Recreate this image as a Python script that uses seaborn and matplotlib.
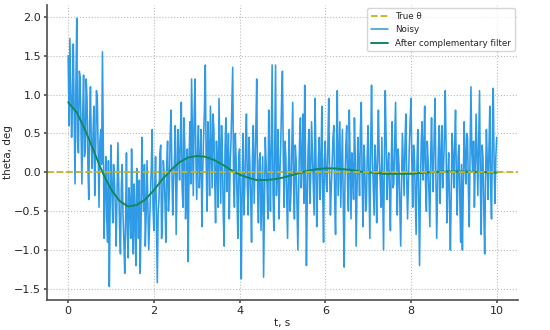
import numpy as np
import pandas as pd
import matplotlib
matplotlib.use("Agg")
import matplotlib.pyplot as plt
import seaborn as sns

# filtered estimate, sampled every 0.2 s
t_filt = np.linspace(0, 10, 51)
theta_filt = [0.90, 0.77, 0.54, 0.27, 0.00, -0.22, -0.37, -0.44, -0.42, -0.35,
              -0.23, -0.09, 0.03, 0.13, 0.19, 0.21, 0.20, 0.16, 0.10, 0.03,
              -0.03, -0.07, -0.10, -0.10, -0.09, -0.07, -0.04, -0.01, 0.02, 0.04,
              0.05, 0.05, 0.04, 0.03, 0.01, 0.00, -0.01, -0.02, -0.02, -0.02,
              -0.02, -0.01, 0.00, 0.005, 0.009, 0.011, 0.010, 0.008, 0.004, 0.000,
              -0.003]

# noisy measurement, sampled every 0.02 s
theta_noisy = [
    # 0-1 s
    1.50, 0.60, 1.72, 1.05, 0.45, 0.90, 1.65, 0.70, -0.15, 1.10, 1.98, 0.40, 0.25, 1.30, 1.22, 0.55, -0.15, 0.75, 1.25, 0.20, 0.30, 1.20, 0.95, 0.10, -0.35,
    0.65, 1.10, 0.35, 0.05, 0.50, 0.85, -0.30, 0.20, 1.05, 0.95, 0.25, -0.45, 0.40, 0.55, 0.10, 1.55, 0.30, -0.85, -0.20, 0.20, -0.60, -0.90, 0.15, -1.47, -0.40,
    # 1-2 s
    0.35, -0.25, -0.65, 0.10, -0.10, -0.45, -0.95, -0.30, 0.38, -0.15, -0.70, -1.05, -0.20, 0.10, -0.55, -0.90, -1.30, -0.60, 0.25, -0.75, -1.10, -0.20, -0.40, -0.85, 0.30,
    -0.50, -1.05, -0.15, -0.60, -1.20, 0.05, -0.35, -0.85, -0.10, -1.30, -0.70, 0.45, -0.20, -0.50, 0.10, -0.95, -0.55, 0.15, -0.40, -1.00, -0.65, -0.30, 0.05, 0.55, -0.45,
    # 2-3 s
    -0.75, -0.20, 0.20, -0.65, -1.42, -0.50, -0.35, 0.25, 0.35, -0.85, -0.60, 0.15, 0.00, -0.40, -0.90, 0.10, 0.40, -0.50, -0.25, 0.45, 0.80, 0.05, -0.55, -0.10, 0.15,
    0.60, -0.80, -0.15, 0.55, 0.20, -0.10, 0.50, 0.90, -0.20, -0.45, 0.70, 0.35, -0.60, -0.20, 0.30, -1.15, 0.10, 0.65, -0.15, 1.20, 0.40, -0.30, 0.75, 1.20, 0.20,
    # 3-4 s
    -0.35, 0.25, 0.60, -0.20, 0.10, 0.55, -0.70, 0.00, 0.45, 0.80, 1.38, 0.15, -0.50, 0.65, 0.30, -0.30, 0.85, 0.35, -0.20, 0.75, 0.55, -0.10, -0.65, 0.40, 0.10,
    -0.45, 0.95, 0.25, -0.40, 0.60, 0.20, -0.55, -0.95, 0.30, 0.70, -0.25, 0.05, 0.50, -0.60, 0.10, 0.40, 0.85, 1.35, -0.10, -0.45, 0.50, 0.15, -0.30, -0.85, 0.20,
    # 4-5 s
    0.30, -0.40, -1.37, -0.10, 0.50, -0.55, -0.20, 0.35, 0.75, -0.15, -0.55, 0.45, 0.10, -0.35, -0.90, 0.20, 0.60, -0.40, 0.05, 0.55, 1.20, -0.20, -0.65, 0.15, 0.25,
    -0.75, -0.30, 0.20, -1.35, -0.45, 0.45, 0.10, -0.15, -0.60, 0.80, 0.25, -0.50, 0.40, 1.38, -0.25, -0.75, 0.30, 1.38, -0.30, 0.00, 0.55, -0.60, -0.05, 0.35, 0.90,
    # 5-6 s
    1.30, 0.20, -0.45, 0.40, 0.20, -0.35, -0.85, 0.05, 0.55, -0.50, -0.25, 0.30, 0.90, -0.15, -0.60, 0.35, 0.15, -0.45, -1.00, -0.20, 0.40, 0.70, -0.20, 0.15, 0.75,
    -0.40, 1.12, 0.10, -1.20, -0.30, 0.30, 0.55, -0.40, -0.05, 0.65, 0.25, -0.10, -0.55, 0.95, 0.30, -0.70, -0.20, 0.20, 0.45, -0.35, 0.10, 0.85, -0.25, -0.90, 0.15,
    # 6-7 s
    0.40, -0.10, -0.25, 0.30, 0.95, 0.05, -0.55, -0.20, 0.10, 0.45, 0.60, -0.35, -0.80, 0.25, 1.05, -0.30, 0.20, 0.65, -0.45, 0.05, 0.55, -0.40, -1.22, -0.10, 0.35,
    0.60, -0.15, -0.50, 0.80, 0.15, -0.60, 0.25, 0.00, -0.35, 0.70, 0.20, -0.95, -0.25, 0.45, 0.10, -0.30, 0.55, 0.90, -0.10, -0.70, 0.35, 0.15, -0.50, -0.40, 0.25,
    # 7-8 s
    0.60, -0.15, -0.85, 0.35, 1.12, 0.20, -0.20, -0.55, 0.35, 0.05, -0.65, 0.30, 0.80, 0.15, -0.10, -0.45, 0.45, -0.25, -1.00, 0.20, 1.05, 0.40, -0.35, 0.10, 0.25,
    -0.30, -0.75, 0.15, 0.65, -0.20, -0.15, 0.40, 0.90, 0.05, -0.55, 0.30, 0.10, -0.40, -0.95, -0.15, 0.50, 0.10, -0.30, 0.35, 0.75, -0.05, -0.60, -0.15, 0.30, 0.65,
    # 8-9 s
    0.95, 0.15, -0.45, 0.35, 0.20, -0.30, -0.80, 0.10, 0.55, -0.35, -1.20, -0.20, 0.40, 0.65, -0.10, 0.25, 0.85, -0.15, -0.50, 0.40, 0.15, -0.25, -0.70, 0.20, 0.70,
    0.05, -0.25, 0.45, 0.95, 0.10, -0.85, -0.30, 0.30, 0.60, -0.40, 0.15, 0.60, -0.20, 0.05, 0.45, 1.05, 0.30, -0.65, -0.10, 0.25, -0.45, -1.00, -0.20, 0.50, 0.20,
    # 9-10 s
    -0.20, 0.35, 0.80, -0.10, -0.55, 0.20, 0.35, -0.35, -0.90, 0.10, -1.00, -0.25, 0.65, 0.15, -0.15, 0.50, 0.45, -0.20, -0.70, 0.30, 1.10, 0.25, 0.00, 0.40, -0.45,
    0.10, 0.75, 0.20, -0.30, 0.40, 1.05, -0.15, -0.80, 0.35, 0.20, -0.50, -1.05, -0.10, 0.55, 0.15, -0.35, 0.30, 0.85, -0.20, -0.60, 0.45, 1.08, 0.10, -0.40, 0.20,
    0.45]
t_noisy = np.linspace(0, 10, len(theta_noisy))

true_theta = 0.0

sns.set_theme(style="ticks")
plt.rcParams['font.family'] = ['DejaVu Sans']

fig, ax = plt.subplots(figsize=(5.5, 3.3), dpi=100)

sns.lineplot(x=t_noisy, y=theta_noisy, ax=ax, color='#2f9ae6', linewidth=1.15,
             label='Noisy', sort=False)
sns.lineplot(x=t_filt, y=theta_filt, ax=ax, color='#12895c', linewidth=1.4,
             label='After complementary filter', sort=False)
ax.axhline(true_theta, color='#c2b422', linestyle='--', linewidth=1.3, label='True θ')

ax.grid(True, linestyle=':', color='#bbbbbb', linewidth=0.8)
sns.despine(ax=ax)
for s in ['left', 'bottom']:
    ax.spines[s].set_color('#555555')
ax.tick_params(labelsize=8, length=2, pad=2, color='#555555')
ax.set_xlabel('t, s', fontsize=7.5, labelpad=2)
ax.set_ylabel('theta, deg', fontsize=7.5, labelpad=1)

h, l = ax.get_legend_handles_labels()
order = [2, 0, 1]
ax.legend([h[i] for i in order], [l[i] for i in order], loc='upper right',
          fontsize=6.3, frameon=True, edgecolor='#cccccc', borderaxespad=0.4)

plt.subplots_adjust(left=0.085, right=0.942, top=0.985, bottom=0.091)
plt.savefig('out.png')
